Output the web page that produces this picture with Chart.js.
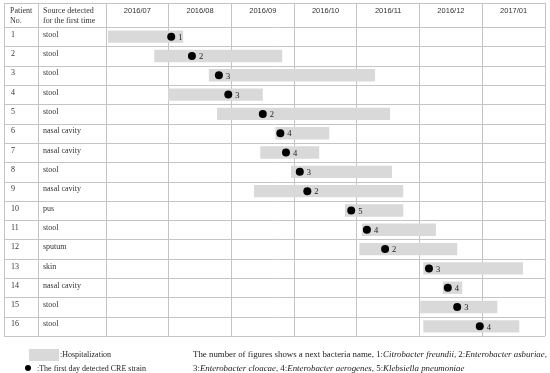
<!DOCTYPE html>
<html>
<head>
<meta charset="utf-8">
<script src="https://cdn.jsdelivr.net/npm/chart.js@4.4.1/dist/chart.umd.min.js"></script>
<style>
html, body { margin: 0; padding: 0; background: #fff; }
</style>
</head>
<body>
<canvas id="myChart" width="550" height="373"></canvas>
<script>
// months shown in the header, x values are months counted from 2016/07/01
var months = ['2016/07', '2016/08', '2016/09', '2016/10', '2016/11', '2016/12', '2017/01'];
var patients = ['1', '2', '3', '4', '5', '6', '7', '8', '9', '10', '11', '12', '13', '14', '15', '16'];
var sources = ['stool', 'stool', 'stool', 'stool', 'stool', 'nasal cavity', 'nasal cavity', 'stool',
               'nasal cavity', 'pus', 'stool', 'sputum', 'skin', 'nasal cavity', 'stool', 'stool'];
var stayStart = [0.03, 0.77, 1.64, 0.99, 1.77, 2.70, 2.46, 2.95, 2.36, 3.81, 4.08, 4.04, 5.06, 5.37, 5.01, 5.06];
var stayEnd   = [1.23, 2.81, 4.29, 2.50, 4.53, 3.56, 3.40, 4.56, 4.74, 4.74, 5.26, 5.60, 6.65, 5.68, 6.24, 6.59];
var firstDetect = [1.04, 1.37, 1.80, 1.95, 2.50, 2.78, 2.87, 3.09, 3.21, 3.91, 4.16, 4.45, 5.15, 5.45, 5.60, 5.96];
var strain = [1, 2, 3, 3, 2, 4, 4, 3, 2, 5, 4, 2, 3, 4, 3, 4];

var lineColor = '#c4c4c4';
var serif = '"Liberation Serif", "Times New Roman", serif';

// draws the left columns of the table, the row lines, strain numbers and the legend
var tableFrame = {
  id: 'tableFrame',
  beforeDatasetsDraw: function (chart) {
    var c = chart.ctx, y = chart.scales.y, area = chart.chartArea;
    var h = (y.bottom - y.top) / patients.length;
    c.save();
    c.strokeStyle = lineColor;
    c.lineWidth = 1;
    c.beginPath();
    for (var i = 0; i <= patients.length; i++) {
      var py = Math.round(y.top + i * h) + 0.5;
      c.moveTo(4, py); c.lineTo(area.right, py);
    }
    c.moveTo(4, 3.5); c.lineTo(area.right, 3.5);
    [4, 38].forEach(function (px) {
      c.moveTo(px + 0.5, 3); c.lineTo(px + 0.5, area.bottom);
    });
    c.stroke();
    c.restore();
  },
  afterDraw: function (chart) {
    var c = chart.ctx, y = chart.scales.y;
    c.save();
    c.fillStyle = '#333';
    c.font = '8px ' + serif;
    c.textBaseline = 'middle';
    c.textAlign = 'left';
    c.fillText('Patient', 10, 11);
    c.fillText('No.', 10, 21);
    c.fillText('Source detected', 43, 11);
    c.fillText('for the first time', 43, 21);
    patients.forEach(function (p, i) {
      var py = y.getPixelForValue(i) - 2;
      c.fillText(p, 11, py);
      c.fillText(sources[i], 43, py);
    });

    // strain number next to each dot
    c.fillStyle = '#222';
    c.font = '8.5px ' + serif;
    var meta = chart.getDatasetMeta(1);
    meta.data.forEach(function (pt, i) {
      c.fillText(String(strain[i]), pt.x + 7, pt.y + 1);
    });

    // legend
    c.fillStyle = '#d9d9d9';
    c.fillRect(29, 349, 30, 12);
    c.fillStyle = '#000';
    c.beginPath();
    c.arc(28, 368, 3, 0, Math.PI * 2);
    c.fill();
    c.fillStyle = '#222';
    c.font = '8px ' + serif;
    c.fillText(':Hospitalization', 60, 355);
    c.fillText(':The first day detected CRE strain', 37, 369);

    var lines = [
      [['The number of figures shows a next bacteria name, 1:', false], ['Citrobacter freundii', true],
       [', 2:', false], ['Enterobacter asburiae', true], [',', false]],
      [['3:', false], ['Enterobacter cloacae', true], [', 4:', false], ['Enterobacter aerogenes', true],
       [', 5:', false], ['Klebsiella pneumoniae', true]]
    ];
    lines.forEach(function (parts, li) {
      var px = 193;
      parts.forEach(function (part) {
        c.font = (part[1] ? 'italic ' : '') + '8.85px ' + serif;
        c.fillText(part[0], px, 355 + li * 14);
        px += c.measureText(part[0]).width;
      });
    });
    c.restore();
  }
};

var ctx = document.getElementById('myChart').getContext('2d');
var myChart = new Chart(ctx, {
  data: {
    labels: patients,
    datasets: [{
      type: 'bar',
      indexAxis: 'y',
      label: 'Hospitalization',
      data: stayStart.map(function (s, i) { return [s, stayEnd[i]]; }),
      backgroundColor: '#d9d9d9',
      borderWidth: 0,
      categoryPercentage: 1,
      barPercentage: 0.64,
      order: 2,
      xAxisID: 'x',
      yAxisID: 'y'
    }, {
      type: 'scatter',
      label: 'The first day detected CRE strain',
      data: firstDetect.map(function (v, i) { return { x: v, y: patients[i] }; }),
      backgroundColor: '#000',
      borderColor: '#000',
      borderWidth: 0,
      pointRadius: 4,
      order: 1,
      xAxisID: 'x',
      yAxisID: 'y'
    }]
  },
  options: {
    responsive: false,
    animation: false,
    layout: { padding: { left: 106, right: 5, top: 3, bottom: 37 } },
    plugins: { legend: { display: false }, tooltip: { enabled: false } },
    scales: {
      x: { type: 'linear', min: 0, max: 7, display: false },
      xm: {
        type: 'category',
        labels: months,
        position: 'top',
        offset: true,
        grid: { offset: true, color: lineColor, drawTicks: true, tickLength: 24, tickColor: lineColor },
        border: { display: false },
        ticks: { padding: -12, color: '#333', font: { family: '"Liberation Sans", Arial, sans-serif', size: 7.5 } },
        afterFit: function (s) { s.height = 24; }
      },
      y: { type: 'category', labels: patients, offset: true, display: false }
    }
  },
  plugins: [tableFrame]
});
</script>
</body>
</html>
